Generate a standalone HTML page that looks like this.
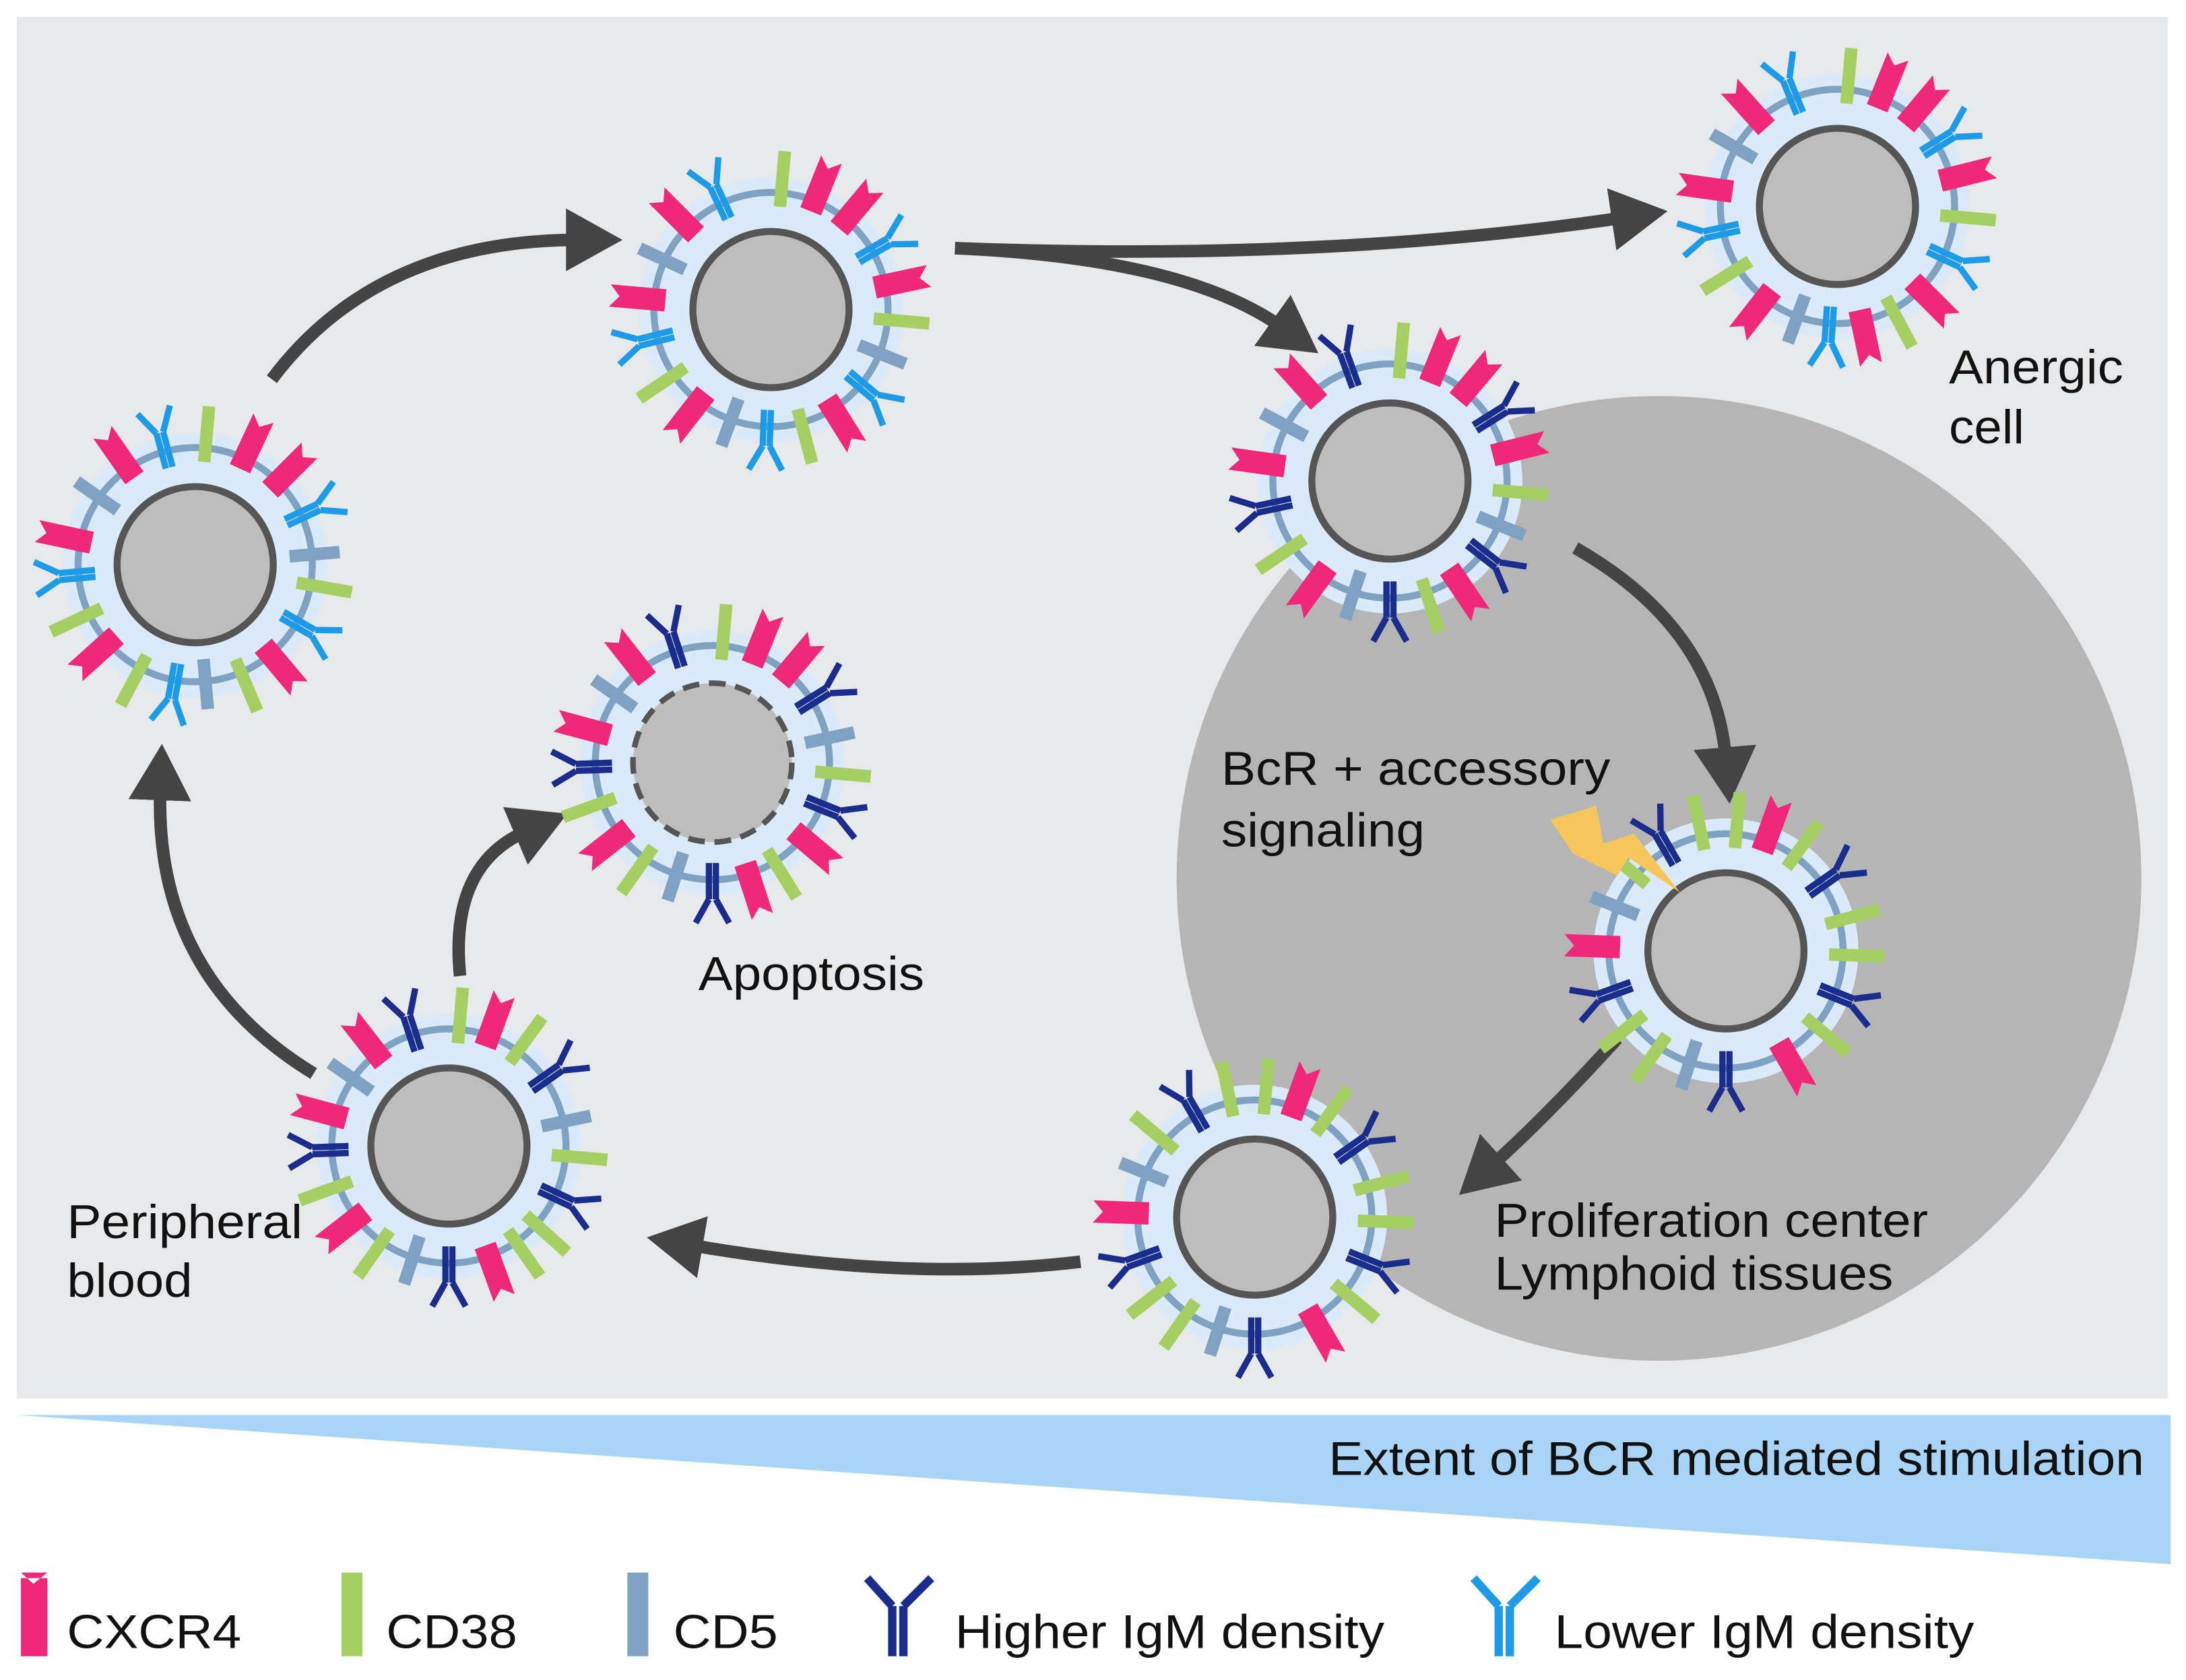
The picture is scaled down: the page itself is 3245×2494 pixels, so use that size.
<!DOCTYPE html>
<html><head><meta charset="utf-8"><style>
html,body{margin:0;padding:0;background:#fff;}
svg{display:block;}
text{font-family:"Liberation Sans",sans-serif;fill:#111;}
</style></head><body>
<svg width="3245" height="2494" viewBox="0 0 1568 1205" xmlns="http://www.w3.org/2000/svg">
<defs>
<polygon id="P" points="-8,-76 8,-76 8,-116 0,-109 -8,-116" fill="#f0287a"/>
<rect id="G" x="-4.5" y="-114" width="9" height="40" fill="#a6cf63"/>
<rect id="B" x="-4.5" y="-104" width="9" height="36" fill="#7fa2c2"/>
<path id="H" d="M-2.5,-72V-98M2.5,-72V-98M-2.5,-98L-12,-115M2.5,-98L12,-115" stroke="#1b2d8c" stroke-width="4.5" fill="none"/>
<path id="L" d="M-2.5,-72V-98M2.5,-72V-98M-2.5,-98L-12,-115M2.5,-98L12,-115" stroke="#1e9be6" stroke-width="4.5" fill="none"/>
<g id="cellbase">
<circle r="95" fill="#dbeaf8"/>
<circle r="84" fill="none" stroke="#7fa2c2" stroke-width="5"/>
</g>
<marker id="ah" markerWidth="5" markerHeight="5" refX="1" refY="2.5" orient="auto" markerUnits="strokeWidth"><path d="M0,0 L4.5,2.5 L0,5 Z" fill="#444"/></marker>
</defs>
<rect x="12" y="12" width="1543" height="991" fill="#e8e9ea"/>
<circle cx="1190" cy="630" r="346" fill="#b5b5b5"/>

<g stroke="#444" stroke-width="9" fill="none" marker-end="url(#ah)">
<path d="M195,272 Q270,172 415,172"/>
<path d="M685,178 Q950,188 1165,156"/>
<path d="M685,178 Q850,185 920,235"/>
<path d="M1130,393 Q1230,450 1238,545"/>
<path d="M1160,745 Q1110,800 1070,836"/>
<path d="M775,905 Q650,920 495,893"/>
<path d="M225,770 Q110,700 115,565"/>
<path d="M330,700 Q322,620 378,596"/>
</g>

<!-- cell1 -->
<g transform="translate(140,405)"><use href="#cellbase"/>
<use href="#G" transform="rotate(5)"/><use href="#P" transform="rotate(25)"/><use href="#P" transform="rotate(45)"/><use href="#L" transform="rotate(65)"/><use href="#B" transform="rotate(85)"/><use href="#G" transform="rotate(100)"/><use href="#L" transform="rotate(120)"/><use href="#P" transform="rotate(140)"/><use href="#G" transform="rotate(157)"/><use href="#B" transform="rotate(175)"/><use href="#L" transform="rotate(190)"/><use href="#G" transform="rotate(208)"/><use href="#P" transform="rotate(228)"/><use href="#G" transform="rotate(245)"/><use href="#L" transform="rotate(265)"/><use href="#P" transform="rotate(282)"/><use href="#B" transform="rotate(305)"/><use href="#P" transform="rotate(325)"/><use href="#L" transform="rotate(345)"/>
<circle r="56" fill="#bdbdbd" stroke="#555" stroke-width="5"/></g>

<!-- cell2 -->
<g transform="translate(553,222)"><use href="#cellbase"/>
<use href="#G" transform="rotate(5)"/><use href="#P" transform="rotate(22)"/><use href="#P" transform="rotate(40)"/><use href="#L" transform="rotate(60)"/><use href="#P" transform="rotate(78)"/><use href="#G" transform="rotate(95)"/><use href="#B" transform="rotate(112)"/><use href="#L" transform="rotate(130)"/><use href="#P" transform="rotate(148)"/><use href="#G" transform="rotate(165)"/><use href="#L" transform="rotate(182)"/><use href="#B" transform="rotate(200)"/><use href="#P" transform="rotate(218)"/><use href="#G" transform="rotate(236)"/><use href="#L" transform="rotate(256)"/><use href="#P" transform="rotate(275)"/><use href="#B" transform="rotate(295)"/><use href="#P" transform="rotate(315)"/><use href="#L" transform="rotate(335)"/>
<circle r="56" fill="#bdbdbd" stroke="#555" stroke-width="5"/></g>

<!-- cell3 -->
<g transform="translate(1318,148)"><use href="#cellbase"/>
<use href="#G" transform="rotate(5)"/><use href="#P" transform="rotate(22)"/><use href="#P" transform="rotate(40)"/><use href="#L" transform="rotate(58)"/><use href="#P" transform="rotate(76)"/><use href="#G" transform="rotate(95)"/><use href="#L" transform="rotate(115)"/><use href="#P" transform="rotate(135)"/><use href="#G" transform="rotate(152)"/><use href="#P" transform="rotate(168)"/><use href="#L" transform="rotate(184)"/><use href="#B" transform="rotate(200)"/><use href="#P" transform="rotate(218)"/><use href="#G" transform="rotate(238)"/><use href="#L" transform="rotate(258)"/><use href="#P" transform="rotate(278)"/><use href="#B" transform="rotate(300)"/><use href="#P" transform="rotate(318)"/><use href="#L" transform="rotate(338)"/>
<circle r="56" fill="#bdbdbd" stroke="#555" stroke-width="5"/></g>

<!-- cell4 -->
<g transform="translate(997,345)"><use href="#cellbase"/>
<use href="#G" transform="rotate(5)"/><use href="#P" transform="rotate(22)"/><use href="#P" transform="rotate(40)"/><use href="#H" transform="rotate(58)"/><use href="#P" transform="rotate(76)"/><use href="#G" transform="rotate(95)"/><use href="#B" transform="rotate(112)"/><use href="#H" transform="rotate(128)"/><use href="#P" transform="rotate(146)"/><use href="#G" transform="rotate(162)"/><use href="#H" transform="rotate(180)"/><use href="#B" transform="rotate(198)"/><use href="#P" transform="rotate(216)"/><use href="#G" transform="rotate(236)"/><use href="#H" transform="rotate(258)"/><use href="#P" transform="rotate(278)"/><use href="#B" transform="rotate(298)"/><use href="#P" transform="rotate(318)"/><use href="#H" transform="rotate(340)"/>
<circle r="56" fill="#bdbdbd" stroke="#555" stroke-width="5"/></g>

<!-- cell5 apoptosis -->
<g transform="translate(511,547)"><use href="#cellbase"/>
<use href="#G" transform="rotate(5)"/><use href="#P" transform="rotate(22)"/><use href="#P" transform="rotate(40)"/><use href="#H" transform="rotate(58)"/><use href="#B" transform="rotate(78)"/><use href="#G" transform="rotate(95)"/><use href="#H" transform="rotate(112)"/><use href="#P" transform="rotate(130)"/><use href="#G" transform="rotate(148)"/><use href="#P" transform="rotate(162)"/><use href="#H" transform="rotate(180)"/><use href="#B" transform="rotate(198)"/><use href="#G" transform="rotate(215)"/><use href="#P" transform="rotate(232)"/><use href="#G" transform="rotate(250)"/><use href="#H" transform="rotate(268)"/><use href="#P" transform="rotate(285)"/><use href="#B" transform="rotate(305)"/><use href="#P" transform="rotate(322)"/><use href="#H" transform="rotate(342)"/>
<circle r="57" fill="#bdbdbd" stroke="#555" stroke-width="4" stroke-dasharray="12,7"/></g>

<!-- cell6 -->
<g transform="translate(1238,682)"><use href="#cellbase"/>
<use href="#G" transform="rotate(5)"/><use href="#P" transform="rotate(20)"/><use href="#G" transform="rotate(36)"/><use href="#H" transform="rotate(55)"/><use href="#G" transform="rotate(75)"/><use href="#G" transform="rotate(92)"/><use href="#H" transform="rotate(112)"/><use href="#G" transform="rotate(130)"/><use href="#P" transform="rotate(150)"/><use href="#H" transform="rotate(180)"/><use href="#B" transform="rotate(198)"/><use href="#G" transform="rotate(215)"/><use href="#G" transform="rotate(232)"/><use href="#H" transform="rotate(250)"/><use href="#P" transform="rotate(272)"/><use href="#B" transform="rotate(292)"/><use href="#G" transform="rotate(310)"/><use href="#H" transform="rotate(330)"/><use href="#G" transform="rotate(348)"/>
<circle r="56" fill="#bdbdbd" stroke="#555" stroke-width="5"/></g>

<!-- cell7 -->
<g transform="translate(322,822)"><use href="#cellbase"/>
<use href="#G" transform="rotate(5)"/><use href="#P" transform="rotate(20)"/><use href="#G" transform="rotate(36)"/><use href="#H" transform="rotate(55)"/><use href="#B" transform="rotate(78)"/><use href="#G" transform="rotate(95)"/><use href="#H" transform="rotate(115)"/><use href="#G" transform="rotate(132)"/><use href="#G" transform="rotate(145)"/><use href="#P" transform="rotate(160)"/><use href="#H" transform="rotate(180)"/><use href="#B" transform="rotate(198)"/><use href="#G" transform="rotate(215)"/><use href="#P" transform="rotate(232)"/><use href="#G" transform="rotate(250)"/><use href="#H" transform="rotate(268)"/><use href="#P" transform="rotate(285)"/><use href="#B" transform="rotate(305)"/><use href="#P" transform="rotate(322)"/><use href="#H" transform="rotate(342)"/>
<circle r="56" fill="#bdbdbd" stroke="#555" stroke-width="5"/></g>

<!-- cell8 -->
<g transform="translate(900,873)"><use href="#cellbase"/>
<use href="#G" transform="rotate(5)"/><use href="#P" transform="rotate(20)"/><use href="#G" transform="rotate(36)"/><use href="#H" transform="rotate(55)"/><use href="#G" transform="rotate(75)"/><use href="#G" transform="rotate(92)"/><use href="#H" transform="rotate(112)"/><use href="#G" transform="rotate(130)"/><use href="#P" transform="rotate(150)"/><use href="#H" transform="rotate(180)"/><use href="#B" transform="rotate(198)"/><use href="#G" transform="rotate(215)"/><use href="#G" transform="rotate(232)"/><use href="#H" transform="rotate(250)"/><use href="#P" transform="rotate(272)"/><use href="#B" transform="rotate(292)"/><use href="#G" transform="rotate(310)"/><use href="#H" transform="rotate(330)"/><use href="#G" transform="rotate(348)"/>
<circle r="56" fill="#bdbdbd" stroke="#555" stroke-width="5"/></g>

<!-- lightning -->
<polygon points="1112,588 1145,578 1150,605 1172,598 1205,640 1168,615 1160,628 1128,612" fill="#f7c65a"/>

<g font-size="34" lengthAdjust="spacingAndGlyphs">
<text x="1398" y="275" textLength="125" lengthAdjust="spacingAndGlyphs">Anergic</text><text x="1398" y="318" textLength="54" lengthAdjust="spacingAndGlyphs">cell</text>
<text x="876" y="563" textLength="279" lengthAdjust="spacingAndGlyphs">BcR + accessory</text><text x="876" y="607" textLength="146" lengthAdjust="spacingAndGlyphs">signaling</text>
<text x="501" y="710" textLength="162" lengthAdjust="spacingAndGlyphs">Apoptosis</text>
<text x="48" y="888" textLength="169" lengthAdjust="spacingAndGlyphs">Peripheral</text><text x="48" y="930" textLength="90" lengthAdjust="spacingAndGlyphs">blood</text>
<text x="1072" y="887" textLength="311" lengthAdjust="spacingAndGlyphs">Proliferation center</text><text x="1072" y="925" textLength="286" lengthAdjust="spacingAndGlyphs">Lymphoid tissues</text>
</g>

<polygon points="12,1015 1557,1015 1557,1122" fill="#a9d4f5"/>
<text x="953" y="1058" font-size="34" textLength="585" lengthAdjust="spacingAndGlyphs">Extent of BCR mediated stimulation</text>

<polygon points="15,1128 34,1128 34,1188 15,1188" fill="#f0287a"/>
<polygon points="15,1128 24,1136 34,1128 34,1132 15,1132" fill="#fff"/>
<text x="48" y="1182" font-size="34" textLength="125" lengthAdjust="spacingAndGlyphs">CXCR4</text>
<rect x="245" y="1128" width="15" height="60" fill="#a6cf63"/>
<text x="277" y="1182" font-size="34" textLength="94" lengthAdjust="spacingAndGlyphs">CD38</text>
<rect x="450" y="1128" width="15" height="60" fill="#7fa2c2"/>
<text x="483" y="1182" font-size="34" textLength="75" lengthAdjust="spacingAndGlyphs">CD5</text>
<path d="M640,1188V1152M648,1188V1152M640,1152L622,1132M648,1152L668,1132" stroke="#1b2d8c" stroke-width="6" fill="none"/>
<text x="685" y="1182" font-size="34" textLength="308" lengthAdjust="spacingAndGlyphs">Higher IgM density</text>
<path d="M1075,1188V1152M1083,1188V1152M1075,1152L1057,1132M1083,1152L1103,1132" stroke="#1e9be6" stroke-width="6" fill="none"/>
<text x="1115" y="1182" font-size="34" textLength="301" lengthAdjust="spacingAndGlyphs">Lower IgM density</text>
</svg>
</body></html>
